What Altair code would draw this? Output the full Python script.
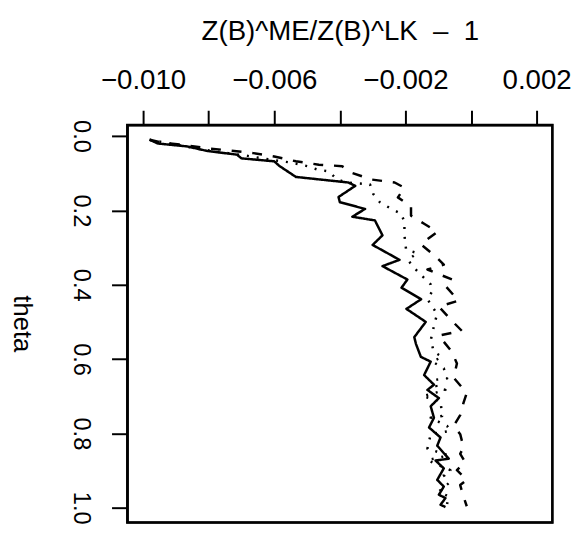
import altair as alt
import pandas as pd

solid_theta = [0.01,0.02,0.028,0.04,0.05,0.06,0.068,0.08,0.11,0.125,0.134,0.164,0.178,0.196,0.217,0.227,0.267,0.293,0.333,0.35,0.386,0.408,0.439,0.465,0.50,0.541,0.559,0.594,0.607,0.643,0.669,0.683,0.705,0.727,0.758,0.784,0.811,0.833,0.868,0.873,0.894,0.925,0.943,0.965,0.974,0.992,0.998]
solid_x = [-0.0098,-0.00955,-0.00865,-0.00805,-0.00714,-0.0070,-0.0060,-0.00585,-0.00534,-0.00374,-0.00353,-0.00404,-0.0040,-0.00323,-0.00362,-0.00293,-0.0027,-0.0030,-0.00218,-0.0027,-0.00194,-0.00212,-0.00152,-0.00197,-0.00138,-0.00173,-0.00168,-0.00153,-0.00123,-0.00143,-0.00113,-0.00133,-0.00098,-0.00123,-0.00113,-0.00128,-0.00093,-0.00103,-0.00068,-0.00108,-0.00083,-0.00103,-0.00083,-0.00098,-0.00078,-0.00093,-0.00078]

dotted_theta = [0.01,0.037,0.055,0.064,0.072,0.081,0.09,0.095,0.117,0.125,0.13,0.156,0.178,0.196,0.209,0.231,0.267,0.306,0.315,0.333,0.355,0.373,0.399,0.417,0.439,0.479,0.499,0.55,0.581,0.594,0.607,0.625,0.652,0.656,0.678,0.683,0.70,0.713,0.753,0.758,0.78,0.793,0.802,0.841,0.859,0.872,0.899,0.912,0.934,0.956,0.97,0.99]
dotted_x = [-0.0098,-0.00814,-0.00669,-0.00609,-0.00544,-0.00499,-0.00469,-0.00434,-0.00408,-0.00378,-0.00308,-0.00298,-0.00278,-0.00243,-0.00213,-0.00203,-0.00203,-0.00198,-0.00163,-0.00193,-0.00173,-0.00153,-0.00123,-0.00118,-0.00133,-0.00103,-0.0011,-0.00123,-0.00113,-0.00088,-0.00118,-0.00083,-0.00073,-0.00113,-0.00103,-0.00078,-0.00148,-0.00093,-0.00088,-0.00123,-0.00073,-0.00063,-0.00123,-0.00133,-0.00068,-0.00133,-0.00063,-0.00083,-0.00068,-0.00098,-0.00068,-0.00073]

dashed_theta = [0.01,0.018,0.024,0.033,0.039,0.046,0.055,0.068,0.077,0.081,0.099,0.117,0.125,0.139,0.165,0.189,0.214,0.236,0.258,0.291,0.324,0.346,0.359,0.386,0.403,0.443,0.459,0.50,0.524,0.537,0.581,0.612,0.65,0.691,0.718,0.751,0.78,0.802,0.837,0.855,0.877,0.899,0.925,0.939,0.97,0.996]
dashed_x = [-0.0098,-0.0094,-0.00875,-0.00805,-0.00734,-0.00664,-0.0060,-0.00534,-0.00464,-0.00393,-0.00363,-0.00303,-0.00233,-0.00203,-0.00223,-0.00183,-0.00183,-0.00143,-0.00103,-0.00153,-0.00108,-0.00083,-0.00133,-0.00058,-0.00078,-0.00038,-0.00098,-0.00055,-0.00028,-0.00098,-0.00058,-0.00043,-0.00053,-0.00013,-0.00023,-0.00033,-0.00053,-0.00033,-0.00023,-0.00033,-0.00018,-0.00043,-0.00013,-0.00033,-0.00023,-0.00013]

x_ticks = [-0.010, -0.008, -0.006, -0.004, -0.002, 0.0, 0.002]
y_ticks = [0.0, 0.2, 0.4, 0.6, 0.8, 1.0]

rows = []
for name, th, xs in [("solid", solid_theta, solid_x), ("dotted", dotted_theta, dotted_x), ("dashed", dashed_theta, dashed_x)]:
    for i, (t, v) in enumerate(zip(th, xs)):
        rows.append({"series": name, "theta": t, "ratio": v, "i": i})
df = pd.DataFrame(rows)

FONT = "Liberation Sans"

lines = alt.Chart(df).mark_line(color="black", strokeWidth=2.5, strokeJoin="round").encode(
    x=alt.X("ratio:Q",
            scale=alt.Scale(domain=[-0.01048, 0.00248], nice=False, zero=False),
            axis=alt.Axis(orient="top", values=x_ticks, grid=False,
                          domain=True, domainColor="black", domainWidth=2,
                          tickSize=15, tickWidth=2, tickColor="black",
                          labelExpr="(abs(datum.value + 0.010) < 1e-9 || abs(datum.value + 0.006) < 1e-9 || abs(datum.value + 0.002) < 1e-9 || abs(datum.value - 0.002) < 1e-9) ? replace(format(datum.value, '.3f'), '-', '\u2212') : ''",
                          labelFont=FONT, labelFontSize=28, labelColor="black", labelPadding=16,
                          labelFlush=False, labelOverlap=False,
                          title="Z(B)^ME/Z(B)^LK\u00a0\u00a0\u2013\u00a0\u00a01", titleFont=FONT, titleFontSize=28,
                          titleFontWeight="normal", titleColor="black",
                          titleX=215.5, titleY=-87, titleBaseline="alphabetic", titleAlign="center")),
    y=alt.Y("theta:Q",
            scale=alt.Scale(domain=[-0.0296, 1.0396], nice=False, zero=False, reverse=True),
            axis=alt.Axis(orient="left", values=y_ticks, format=".1f", grid=False,
                          domain=True, domainColor="black", domainWidth=2,
                          tickSize=16, tickWidth=2, tickColor="black",
                          labelAngle=90, labelAlign="center", labelBaseline="top",
                          labelFont=FONT, labelFontSize=24, labelColor="black", labelPadding=20,
                          labelFlush=False, labelOverlap=False,
                          title="theta", titleFont=FONT, titleFontSize=26, titleFontWeight="normal",
                          titleColor="black", titleAngle=90, titleAlign="center", titleBaseline="middle",
                          titleX=-107, titleY=201)),
    strokeDash=alt.StrokeDash("series:N",
                              scale=alt.Scale(domain=["solid", "dotted", "dashed"],
                                              range=[[1, 0], [2, 8], [10, 11]]),
                              legend=None),
    order=alt.Order("i:Q"),
)

frame = alt.Chart(df).mark_rect(fill=None, stroke="black", strokeWidth=2.5).encode(
    x=alt.value(0), x2=alt.value(431), y=alt.value(0), y2=alt.value(403)
).transform_filter("datum.i == 0 && datum.series == 'solid'")

chart = alt.layer(frame, lines).properties(
    width=431, height=403,
    padding={"left": 121, "top": 115, "right": 26, "bottom": 8},
    autosize=alt.AutoSizeParams(type="none"),
    background="white",
).configure_view(stroke="black", strokeWidth=2)

chart.save("out.html", embed_options={"renderer": "svg", "actions": False})
